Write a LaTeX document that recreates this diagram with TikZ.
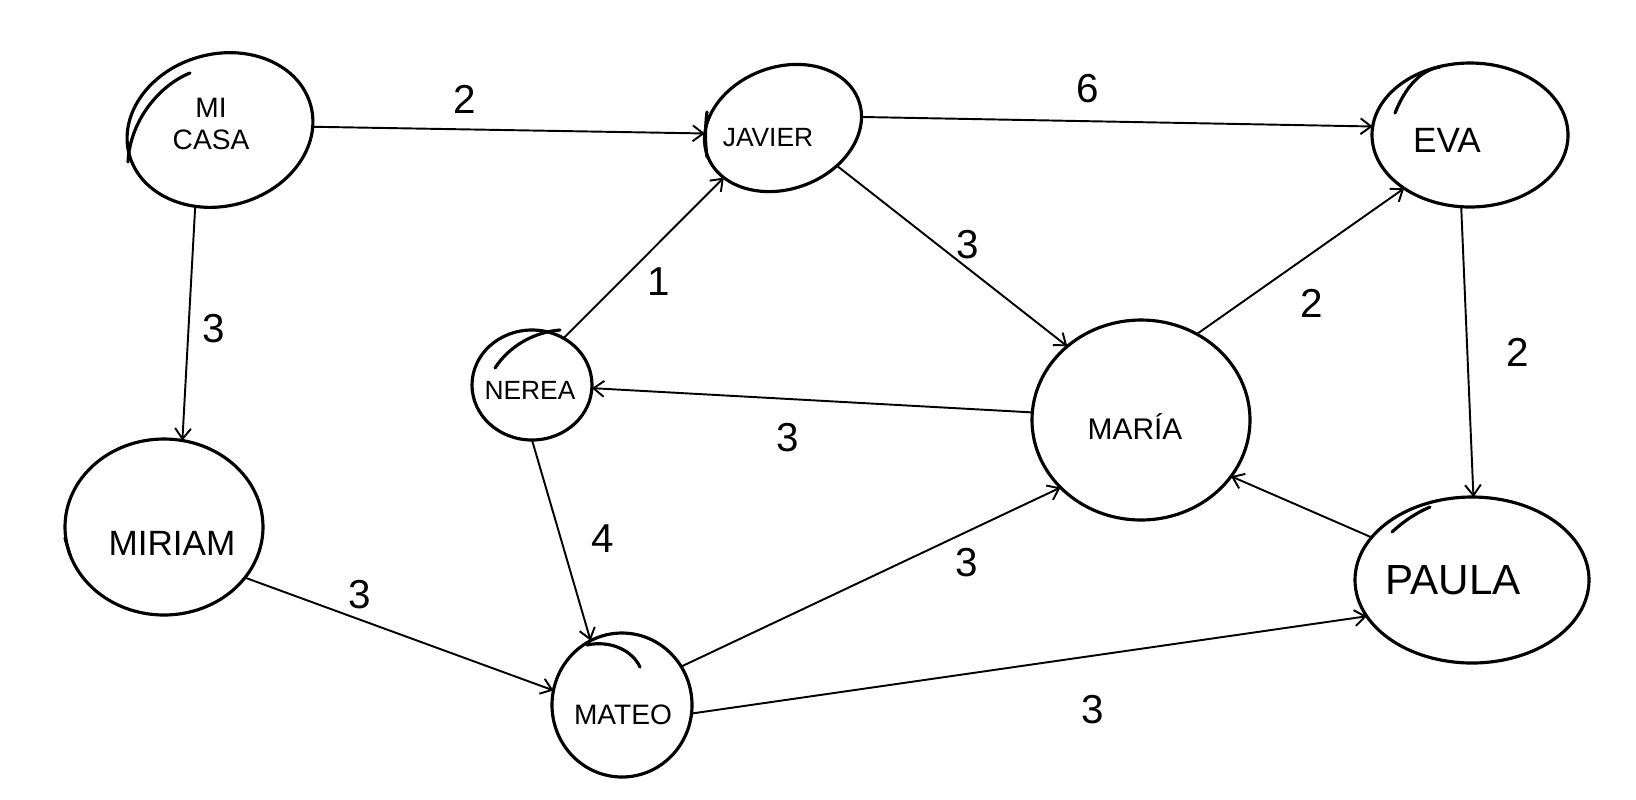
\documentclass[tikz,border=0pt]{standalone}
\usepackage{fontspec}
\setmainfont{Liberation Sans}
\usetikzlibrary{shapes.geometric,arrows.meta}
\tikzset{
  el/.style 2 args={ellipse, draw, line width=1.8pt, inner sep=0pt, outer sep=0pt,
    minimum width=#1*0.02cm, minimum height=#2*0.02cm},
  edge/.style={line width=1.1pt, -{Straight Barb[length=6pt,width=9pt,line width=1.1pt]}},
  extra/.style={line width=1.8pt, line cap=round},
  lbl/.style={inner sep=0pt, font=\fontsize{23}{26}\selectfont},
  nm/.style={inner sep=0pt, align=center, font=\fontsize{#1}{#1}\selectfont},
}
\begin{document}
\begin{tikzpicture}[x=0.02cm, y=-0.02cm]
\useasboundingbox (0,0) rectangle (1636,799);
% nodes (ellipses)
\node[el={188}{152}, rotate=15] (micasa) at (220,130) {};
\node[el={161}{122}, rotate=20] (javier) at (783,128) {};
\node[el={196}{144}] (eva) at (1470,135) {};
\node[el={120}{110}] (nerea) at (532,385) {};
\node[el={218}{200}] (maria) at (1141,420) {};
\node[el={198}{176}] (miriam) at (164,527) {};
\node[el={140}{144}] (mateo) at (622,705) {};
\node[el={234}{166}] (paula) at (1472,580) {};
% names
\node[nm=16, font=\fontsize{16}{18}\selectfont] (tmicasa) at (211,124) {MI\\CASA};
\node[nm=15] (tjavier) at (768,138) {JAVIER};
\node[nm=20] (teva) at (1447,140) {EVA};
\node[nm=15] (tnerea) at (530,390) {NEREA};
\node[nm=17] (tmaria) at (1135,427) {MARÍA};
\node[nm=20] (tmiriam) at (172,543) {MIRIAM};
\node[nm=16] (tmateo) at (623,715) {MATEO};
\node[nm=24] (tpaula) at (1453,580) {PAULA};
% hand-drawn extra strokes
\draw[extra] (128,162) .. controls (130,120) and (160,85) .. (190,73);
\draw[extra] (707,112) .. controls (705,128) and (705,142) .. (707,157);
\draw[extra] (1395,113) .. controls (1405,88) and (1420,70) .. (1440,67);
\draw[extra] (495,368) .. controls (510,345) and (535,332) .. (560,330);
\draw[extra] (587,645) .. controls (610,640) and (632,650) .. (640,667);
\draw[extra] (1392,532) .. controls (1405,520) and (1418,512) .. (1430,507);
\draw[extra] (65,538) -- (70,555);
% connectors
\draw[edge] (micasa.-13) -- (javier.164);
\draw[edge] (javier.-12) -- (eva.175);
\draw[edge] (micasa.237) -- (miriam.78);
\draw[edge] (nerea.56) -- (javier.200);
\draw[edge] (javier.-55) -- (maria.135);
\draw[edge] (maria.57) -- (eva.219);
\draw[edge] (eva.263) -- (paula.89);
\draw[edge] (maria.176) -- (nerea.-3);
\draw[edge] (nerea.270) -- (mateo.116);
\draw[edge] (miriam.-32) -- (mateo.168);
\draw[edge] (mateo.33) -- (maria.220);
\draw[edge] (mateo.-7) -- (paula.199);
\draw[edge] (paula.157) -- (maria.-32);
% weights
\node[lbl] (w1) at (465,99) {2};
\node[lbl] (w2) at (1088,89) {6};
\node[lbl] (w3) at (214,329) {3};
\node[lbl] (w4) at (659,282) {1};
\node[lbl] (w5) at (968,245) {3};
\node[lbl] (w6) at (1312,303) {2};
\node[lbl] (w7) at (1518,352) {2};
\node[lbl] (w8) at (788,438) {3};
\node[lbl] (w9) at (603,539) {4};
\node[lbl] (w10) at (360,595) {3};
\node[lbl] (w11) at (967,563) {3};
\node[lbl] (w12) at (1093,710) {3};
\end{tikzpicture}
\end{document}
